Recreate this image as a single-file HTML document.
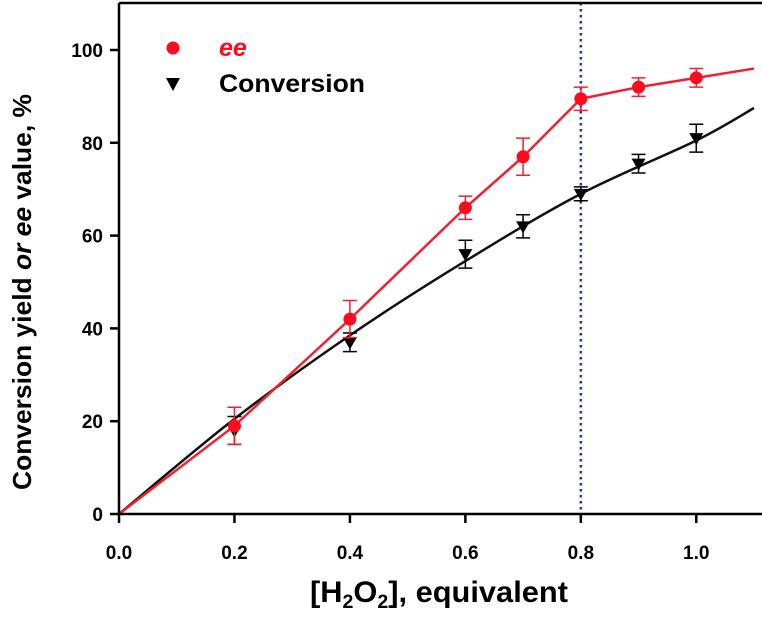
<!DOCTYPE html>
<html><head><meta charset="utf-8"><style>
body{margin:0;background:#fff;}
svg{display:block;font-family:"Liberation Sans",Arial,sans-serif;font-weight:bold;}
</style></head><body>
<svg id="chart" width="762" height="621" viewBox="0 0 762 621" xmlns="http://www.w3.org/2000/svg">
<g id="plot"></g>
<text transform="translate(31,292) rotate(-90)" text-anchor="middle" font-size="26" textLength="396" lengthAdjust="spacingAndGlyphs">Conversion yield <tspan font-style="italic">or</tspan> <tspan font-style="italic">ee</tspan> value, %</text>
<text x="439" y="602" text-anchor="middle" font-size="30" textLength="258" lengthAdjust="spacingAndGlyphs">[H<tspan font-size="19" dy="6">2</tspan><tspan dy="-6">O</tspan><tspan font-size="19" dy="6">2</tspan><tspan dy="-6">], equivalent</tspan></text>
<g>
<circle cx="173" cy="48" r="6.5" fill="#ff0a1e"/>
<text x="219" y="56" font-size="25" fill="#ff0a1e" font-style="italic">ee</text>
<path d="M166,78 L180,78 L173,91 Z" fill="#000"/>
<text x="219" y="92" font-size="25" textLength="146" lengthAdjust="spacingAndGlyphs">Conversion</text>
</g>
</svg>
<script>
const xTicks=[0.0,0.2,0.4,0.6,0.8,1.0];
const xTickLabels=["0.0","0.2","0.4","0.6","0.8","1.0"];
const yTicks=[0,20,40,60,80,100];
const eeX=[0.2,0.4,0.6,0.7,0.8,0.9,1.0];
const eeY=[19,42,66,77,89.5,92,94];
const eeErr=[4,4,2.5,4,2.5,2,2];
const eeLineX=[0,0.2,0.4,0.6,0.7,0.8,0.9,1.0,1.1];
const eeLineY=[0,19,42,66,77,89.5,92,94,96];
const convX=[0.2,0.4,0.6,0.7,0.8,0.9,1.0];
const convY=[18,37,56,62,69,75.5,81];
const convErr=[3,2,3,2.5,1.5,2,3];
const fitX=[0,0.2,0.4,0.6,0.8,1.0,1.1];
const fitY=[0,20.5,38.5,54.5,69,80.5,87.5];
const markerLineX=0.8;

const X0=119,X1=754,Y0=514,YT=3;
const sx=v=>X0+v/1.1*(X1-X0);
const sy=v=>Y0-v/100*464;
const NS="http://www.w3.org/2000/svg";
const g=document.getElementById('plot');
function mk(t,a){const e=document.createElementNS(NS,t);for(const k in a)e.setAttribute(k,a[k]);g.appendChild(e);return e;}

let e=mk('line',{x1:sx(markerLineX),x2:sx(markerLineX),y1:YT,y2:Y0,stroke:'#1f2fd8','stroke-width':2.5,'stroke-dasharray':'2.5,3.5'});



function path(xs,ys,smooth){
  const p=xs.map((x,i)=>[sx(x),sy(ys[i])]);
  if(!smooth)return 'M'+p.map(q=>q.join(',')).join(' L');
  let d='M'+p[0].join(',');
  for(let i=0;i<p.length-1;i++){
    const a=p[Math.max(0,i-1)],b=p[i],c=p[i+1],n=p[Math.min(p.length-1,i+2)];
    d+=` C${b[0]+(c[0]-a[0])/6},${b[1]+(c[1]-a[1])/6} ${c[0]-(n[0]-b[0])/6},${c[1]-(n[1]-b[1])/6} ${c[0]},${c[1]}`;
  }
  return d;
}
e=mk('path',{d:path(fitX,fitY,true),fill:'none',stroke:'#111','stroke-width':2.5});


e=mk('path',{d:path(eeLineX,eeLineY,false),fill:'none',stroke:'#f0202e','stroke-width':2.5});



function errbar(x,y,er,col,name){
  const cx=sx(x);
  const el=mk('path',{d:`M${cx},${sy(y+er)} V${sy(y-er)} M${cx-7},${sy(y+er)} H${cx+7} M${cx-7},${sy(y-er)} H${cx+7}`,stroke:col,'stroke-width':1.5,fill:'none'});
  
  
}
convX.forEach((x,i)=>{
  errbar(x,convY[i],convErr[i],'#000','conversion-error-bar');
  const cx=sx(x),cy=sy(convY[i]);
  const m=mk('path',{d:`M${cx-7},${cy-5} L${cx+7},${cy-5} L${cx},${cy+7} Z`,fill:'#000'});
  
  
});
eeX.forEach((x,i)=>{
  errbar(x,eeY[i],eeErr[i],'#f0202e','ee-error-bar');
  const m=mk('circle',{cx:sx(x),cy:sy(eeY[i]),r:6.5,fill:'#ff0a1e'});
  
  
});

e=mk('path',{d:`M${X0},${YT} H${X1+8} M${X0},${YT} V${Y0} H${X1+8}`,stroke:'#000','stroke-width':2.5,fill:'none'});



xTicks.forEach((v,i)=>{
  const t=mk('line',{x1:sx(v),x2:sx(v),y1:Y0,y2:Y0+9,stroke:'#000','stroke-width':2.5});
  
  
  const l=mk('text',{x:sx(v),y:Y0+45,'text-anchor':'middle','font-size':19});
  l.textContent=xTickLabels[i];
  
  
});
yTicks.forEach(v=>{
  const t=mk('line',{x1:X0-9,x2:X0,y1:sy(v),y2:sy(v),stroke:'#000','stroke-width':2.5});
  
  
  const l=mk('text',{x:X0-16,y:sy(v)+7,'text-anchor':'end','font-size':19});
  l.textContent=String(v);
  
  
});
</script>
</body></html>
